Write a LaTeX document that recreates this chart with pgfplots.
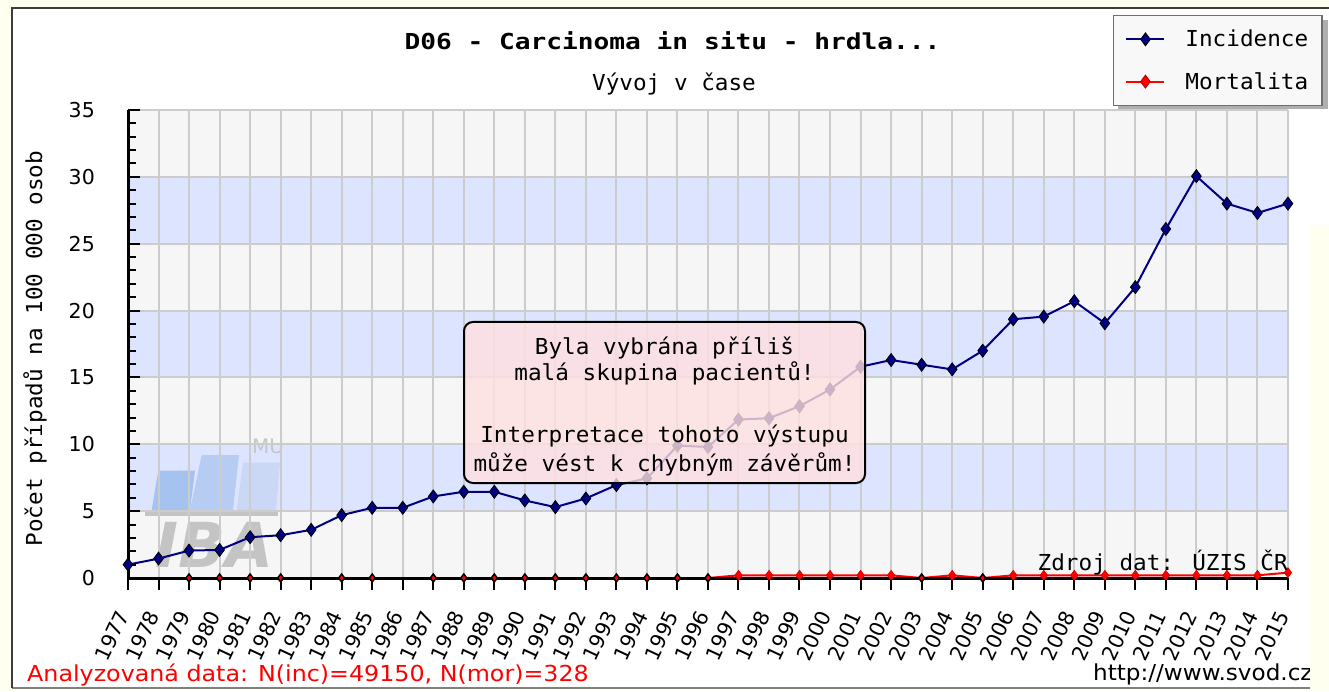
\documentclass[border=0pt]{standalone}
\usepackage{pgfplots}
\pgfplotsset{compat=1.18}
\usepackage{fontspec}
\setmainfont{DejaVu Sans}
\newfontfamily\monofam[FakeStretch=1.03]{DejaVu Sans Mono}
\newfontfamily\titlefam[FakeStretch=1.19]{DejaVu Sans Mono}
\newfontfamily\sansfam{DejaVu Sans}
\newfontfamily\redfam[FakeStretch=1.08]{DejaVu Sans}
\newfontfamily\urlfam[FakeStretch=1.05]{DejaVu Sans}
\newcommand\monoF{\monofam\fontsize{22}{26}\selectfont}
\newcommand\tkF{\sansfam\fontsize{20.5}{24}\selectfont}
\definecolor{cream}{RGB}{255,255,240}
\definecolor{stripeblue}{RGB}{221,228,255}
\definecolor{stripegray}{RGB}{246,246,246}
\definecolor{gridgray}{RGB}{204,204,204}
\definecolor{navy}{RGB}{0,0,128}
\definecolor{pinkbox}{RGB}{255,224,224}
\definecolor{framedark}{RGB}{60,60,60}
\definecolor{wmA}{RGB}{166,194,238}
\definecolor{wmB}{RGB}{182,204,242}
\definecolor{wmC}{RGB}{202,216,246}
\definecolor{wmgray}{RGB}{196,196,196}
\definecolor{legfill}{RGB}{248,248,248}
\definecolor{legdraw}{RGB}{110,110,110}
\definecolor{shadowgray}{RGB}{175,175,175}

\begin{document}
\begin{tikzpicture}[x=1pt,y=1pt]
\useasboundingbox (0,0) rectangle (1329,691);
\fill[cream] (0,0) rectangle (1329,691);
\fill[white] (12,3) rectangle (1329,683);
\draw[gray, line width=2pt] (12,3) -- (1329,3);
\draw[framedark, line width=2.5pt] (1329,683) -- (12,683) -- (12,3);
% background stripes of the plot area
\foreach \i in {0,...,6}{
  \pgfmathsetmacro\ya{113+\i*468/7}
  \pgfmathsetmacro\yb{113+(\i+1)*468/7}
  \ifodd\i
    \fill[stripeblue] (128,\ya) rectangle (1288,\yb);
  \else
    \fill[stripegray] (128,\ya) rectangle (1288,\yb);
  \fi
}
% watermark
\fill[wmA] (151.7,181) -- (190,181) -- (195,220.3) -- (158.3,220.3) -- cycle;
\fill[wmB] (190,181) -- (233,181) -- (239,236) -- (201.7,236) -- cycle;
\fill[wmC] (236.7,181) -- (276,181) -- (280,228.3) -- (243,228.3) -- cycle;
\fill[wmgray] (145,175) rectangle (278,179);
\node[anchor=base west, text=wmgray, font=\sansfam\bfseries\itshape\fontsize{62}{62}\selectfont, inner sep=0pt] at (155,124) {IBA};
\node[anchor=base west, text=gray!45, font=\sansfam\fontsize{20}{20}\selectfont, inner sep=0pt] at (252,237) {MU};
% legend shadow
\fill[shadowgray] (1118,582) rectangle (1328,671);

\begin{axis}[
  at={(128pt,113pt)}, anchor=south west,
  scale only axis, width=1160pt, height=468pt,
  xmin=1977, xmax=2015, ymin=0, ymax=35,
  xtick={1977,...,2015}, ytick={0,5,...,35},
  minor y tick num=4,
  /pgf/number format/1000 sep={},
  /pgf/number format/assume math mode=true,
  tick pos=left, tick align=inside,
  major tick length=12pt, minor tick length=8pt,
  tick style={black, line width=2pt},
  xtick style={yshift=-12pt},
  grid=major, major grid style={draw=gridgray, line width=2pt},
  axis line style={draw=none},
  clip=false,
  xticklabel style={font=\tkF, xshift=-5pt, yshift=-34pt, rotate=65, anchor=east, inner sep=0pt},
  yticklabel style={font=\tkF, anchor=east, xshift=-33pt, inner sep=0pt},
  legend style={at={(1.0302,1.2030)}, anchor=north east, font=\monoF,
    draw=legdraw, line width=1.5pt, fill=legfill,
    inner xsep=12pt, inner ysep=12.5pt, row sep=20pt, column sep=18pt,
    cells={anchor=west}},
  legend image code/.code={\draw[mark repeat=2,mark phase=2,#1] plot coordinates {(0pt,0pt) (19pt,0pt) (38pt,0pt)};},
]
\addplot[navy, line width=2pt, mark=diamond*, mark size=6.5pt,
  mark options={solid, fill=navy, draw=black, line width=0.8pt}] coordinates {
(1977,1.0) (1978,1.45) (1979,2.05) (1980,2.1) (1981,3.05) (1982,3.2) (1983,3.6)
(1984,4.7) (1985,5.25) (1986,5.25) (1987,6.1) (1988,6.45) (1989,6.45) (1990,5.8)
(1991,5.3) (1992,5.95) (1993,6.95) (1994,7.45) (1995,9.9) (1996,9.8) (1997,11.85)
(1998,11.95) (1999,12.85) (2000,14.1) (2001,15.8) (2002,16.3) (2003,15.95) (2004,15.6)
(2005,17.0) (2006,19.35) (2007,19.55) (2008,20.7) (2009,19.05) (2010,21.75) (2011,26.1)
(2012,30.05) (2013,28.0) (2014,27.3) (2015,28.0)};
\addlegendentry{Incidence}
\addlegendimage{red, line width=2pt, mark=diamond*, mark size=6.5pt, mark options={solid, fill=red, draw=red!70!black, line width=0.8pt}}
\addlegendentry{Mortalita}
% mortality line with marks at non-zero values
\addplot[forget plot, red, line width=2pt, mark=diamond*, mark size=5pt,
  mark options={solid, fill=red, draw=red!80!black, line width=0.6pt},
  mark indices={17,18,19,20,21,22,24,26,27,28,29,30,31,32,33,34,35}] coordinates {
(1979,0) (1980,0) (1981,0) (1982,0) (1984,0) (1985,0) (1987,0) (1988,0) (1989,0)
(1990,0) (1991,0) (1992,0) (1993,0) (1994,0) (1995,0) (1996,0) (1997,0.2) (1998,0.2)
(1999,0.2) (2000,0.2) (2001,0.2) (2002,0.2) (2003,0) (2004,0.2) (2005,0) (2006,0.2)
(2007,0.2) (2008,0.2) (2009,0.2) (2010,0.2) (2011,0.2) (2012,0.2) (2013,0.2) (2014,0.2)
(2015,0.4)};
% zero-valued mortality points
\addplot[forget plot, only marks, mark=diamond*, mark size=4pt,
  mark options={fill=red, draw=black, line width=1.5pt}] coordinates {
(1979,0) (1980,0) (1981,0) (1982,0) (1984,0) (1985,0) (1987,0) (1988,0) (1989,0)
(1990,0) (1991,0) (1992,0) (1993,0) (1994,0) (1995,0) (1996,0) (2003,0) (2005,0)};
\draw[black, line width=3pt] (rel axis cs:0,1) -- (rel axis cs:0,0) -- (rel axis cs:1,0);
\end{axis}

% warning box
\fill[pinkbox, fill opacity=0.8, rounded corners=9pt] (464,208) rectangle (865,369);
\draw[black, line width=2pt, rounded corners=9pt] (464,208) rectangle (865,369);
\node[anchor=base, font=\monoF, inner sep=0pt] at (664.5,336) {Byla vybrána příliš};
\node[anchor=base, font=\monoF, inner sep=0pt] at (664.5,310) {malá skupina pacientů!};
\node[anchor=base, font=\monoF, inner sep=0pt] at (664.5,248) {Interpretace tohoto výstupu};
\node[anchor=base, font=\monoF, inner sep=0pt] at (664.5,220) {může vést k chybným závěrům!};

% titles and texts
\node[anchor=base, font=\titlefam\bfseries\fontsize{22}{26}\selectfont, inner sep=0pt] at (672.5,641) {D06 - Carcinoma in situ - hrdla...};
\node[anchor=base, font=\monoF, inner sep=0pt] at (674,600) {Vývoj v čase};
\node[rotate=90, anchor=base, font=\monoF, inner sep=0pt] at (42,342.5) {Počet případů na 100 000 osob};
\node[anchor=base east, font=\monoF, inner sep=0pt] at (1288,121) {Zdroj dat: ÚZIS ČR};
\node[anchor=base west, text=red, font=\redfam\fontsize{22}{26}\selectfont, inner sep=0pt] at (27,10) {Analyzovaná data: N(inc)=49150, N(mor)=328};
\node[anchor=base west, font=\urlfam\fontsize{22}{26}\selectfont, inner sep=0pt] at (1093,11) {http://www.svod.cz};
\fill[cream] (1310,0) rectangle (1329,466);
\end{tikzpicture}
\end{document}
